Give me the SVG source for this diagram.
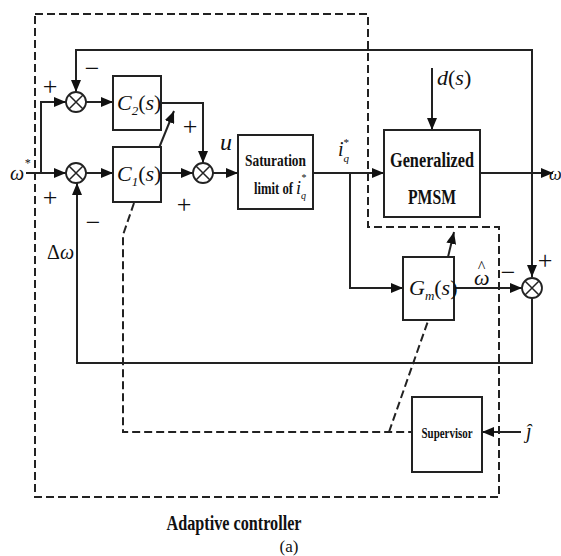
<svg xmlns="http://www.w3.org/2000/svg" width="561" height="556" viewBox="0 0 561 556">
<defs>
<marker id="ah" viewBox="0 0 12 10" refX="12" refY="5" markerWidth="12" markerHeight="10" markerUnits="userSpaceOnUse" orient="auto">
<path d="M0,0 L12,5 L0,10 Z" fill="#111"/>
</marker>
<style>
.ln{fill:none;stroke:#222;stroke-width:2}
.box{fill:#fff;stroke:#222;stroke-width:2}
.dash{fill:none;stroke:#222;stroke-width:2;stroke-dasharray:8,4}
.sum{fill:#fff;stroke:#222;stroke-width:1.8}
.x{stroke:#222;stroke-width:1.5}
.m{font-family:"Liberation Serif","Times New Roman",serif;font-style:italic;fill:#111}
.b{font-family:"Liberation Serif","Times New Roman",serif;font-weight:700;fill:#111}
.sg{font-family:"Liberation Serif","Times New Roman",serif;fill:#111;font-size:26px;text-anchor:middle}
</style>
</defs>
<rect width="561" height="556" fill="#fff"/>

<g id="adaptive-boundary">
<path class="dash" d="M35,14 H368 V227 H499 V497 H35 Z"/>
</g>

<g id="connectors">
<path class="ln" d="M26,173 H66" marker-end="url(#ah)"/>
<path class="ln" d="M41,173 V102 H66" marker-end="url(#ah)"/>
<path class="ln" d="M532,173 V50 H76 V92" marker-end="url(#ah)"/>
<path class="ln" d="M532,173 V277" marker-end="url(#ah)"/>
<path class="ln" d="M86,102 H113" marker-end="url(#ah)"/>
<path class="ln" d="M86,173 H113" marker-end="url(#ah)"/>
<path class="ln" d="M161,103 H203 V163" marker-end="url(#ah)"/>
<path class="ln" d="M161,173 H193" marker-end="url(#ah)"/>
<path class="ln" d="M213,173 H238" marker-end="url(#ah)"/>
<path class="ln" d="M313,173 H384" marker-end="url(#ah)"/>
<path class="ln" d="M350,173 V288 H403" marker-end="url(#ah)"/>
<path class="ln" d="M454,288 H522" marker-end="url(#ah)"/>
<path class="ln" d="M480,173 H553" marker-end="url(#ah)"/>
<path class="ln" d="M432,68 V130" marker-end="url(#ah)"/>
<path class="ln" d="M532,298 V363 H77 V183" marker-end="url(#ah)"/>
<path class="ln" d="M521,432 H482" marker-end="url(#ah)"/>
<path class="ln" d="M159,148 L174,111" marker-end="url(#ah)"/>
<path class="ln" d="M448,257 L454,232" marker-end="url(#ah)"/>
<path class="dash" d="M134,203 L123,235 V432 H412"/>
<path class="dash" d="M389,432 L428,321"/>
</g>

<g id="sum1"><circle class="sum" cx="76" cy="102" r="10"/><path class="x" d="M69,95 L83,109 M83,95 L69,109"/></g>
<g id="sum2"><circle class="sum" cx="76" cy="173" r="10"/><path class="x" d="M69,166 L83,180 M83,166 L69,180"/></g>
<g id="sum3"><circle class="sum" cx="203" cy="173" r="10"/><path class="x" d="M196,166 L210,180 M210,166 L196,180"/></g>
<g id="sum4"><circle class="sum" cx="532" cy="288" r="10"/><path class="x" d="M525,281 L539,295 M539,281 L525,295"/></g>

<g id="C2">
<rect class="box" x="113" y="76" width="48" height="54"/>
<text class="m" x="117" y="110" font-size="22">C<tspan font-size="13" dy="5">2</tspan><tspan dy="-5" font-style="normal">(</tspan>s<tspan font-style="normal">)</tspan></text>
</g>
<g id="C1">
<rect class="box" x="113" y="147" width="48" height="55"/>
<text class="m" x="117" y="181" font-size="22">C<tspan font-size="13" dy="5">1</tspan><tspan dy="-5" font-style="normal">(</tspan>s<tspan font-style="normal">)</tspan></text>
</g>
<g id="saturation">
<rect class="box" x="238" y="135" width="75" height="74"/>
<text class="b" x="245" y="166" font-size="17" textLength="61" lengthAdjust="spacingAndGlyphs">Saturation</text>
<text class="b" x="254" y="194" font-size="17" textLength="39" lengthAdjust="spacingAndGlyphs">limit of</text>
<text class="m" x="296" y="194" font-size="18">i<tspan font-size="10" dy="5">q</tspan><tspan font-size="10" dx="-5" dy="-18">*</tspan></text>
</g>
<g id="pmsm">
<rect class="box" x="384" y="130" width="96" height="87"/>
<text class="b" x="432" y="167" font-size="20" text-anchor="middle" textLength="84" lengthAdjust="spacingAndGlyphs">Generalized</text>
<text class="b" x="432" y="204" font-size="20" text-anchor="middle" textLength="48" lengthAdjust="spacingAndGlyphs">PMSM</text>
</g>
<g id="Gm">
<rect class="box" x="403" y="257" width="51" height="63"/>
<text class="m" x="409" y="295" font-size="22">G<tspan font-size="13" dy="5">m</tspan><tspan dy="-5" font-style="normal">(</tspan>s<tspan font-style="normal">)</tspan></text>
</g>
<g id="supervisor">
<rect class="box" x="412" y="397" width="70" height="75"/>
<text class="b" x="447" y="438" font-size="14" text-anchor="middle" textLength="51" lengthAdjust="spacingAndGlyphs">Supervisor</text>
</g>

<g id="labels">
<text class="m" x="10" y="180" font-size="20">ω<tspan font-size="12" dy="-13">*</tspan></text>
<text class="sg" x="50" y="95">+</text>
<text class="sg" x="92" y="77">−</text>
<text class="sg" x="50" y="206">+</text>
<text class="sg" x="93" y="231">−</text>
<text class="sg" x="190" y="135">+</text>
<text class="sg" x="184" y="213">+</text>
<text class="m" x="220" y="150" font-size="24">u</text>
<text class="m" x="338" y="156" font-size="20">i<tspan font-size="11" dy="6">q</tspan><tspan font-size="11" dx="-6" dy="-16">*</tspan></text>
<text class="m" x="437" y="85" font-size="22">d<tspan font-style="normal">(</tspan>s<tspan font-style="normal">)</tspan></text>
<text class="m" x="549" y="180" font-size="18">ω</text>
<text class="m" x="474" y="285" font-size="22">ω<tspan font-size="16" dx="-12" dy="-13">^</tspan></text>
<text class="sg" x="508" y="281">−</text>
<text class="sg" x="545" y="269">+</text>
<text class="m" x="47" y="259" font-size="20"><tspan font-style="normal">Δ</tspan>ω</text>
<text class="m" x="526" y="438" font-size="20">ĵ</text>
<text class="b" x="234" y="530" font-size="20" text-anchor="middle" textLength="135" lengthAdjust="spacingAndGlyphs">Adaptive controller</text>
<text x="289" y="552" font-family="Liberation Serif, serif" font-size="17" text-anchor="middle" fill="#111">(a)</text>
</g>
</svg>
